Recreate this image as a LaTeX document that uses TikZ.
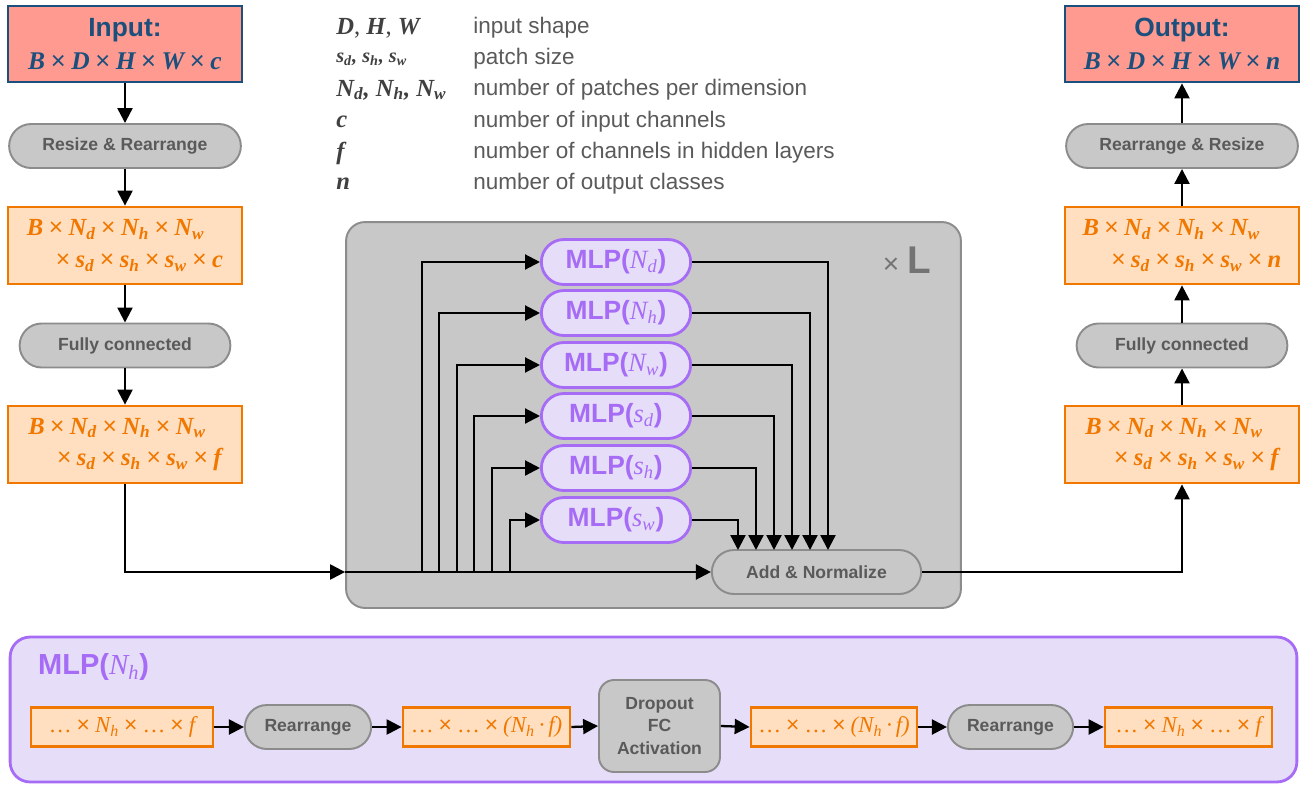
\documentclass[tikz,border=0pt]{standalone}
\usepackage{fontspec}
\setmainfont{Liberation Serif}
\setsansfont{Liberation Sans}
\usetikzlibrary{arrows.meta,shapes.misc}
\definecolor{salmon}{HTML}{FF9A90}
\definecolor{navy}{HTML}{1B4F7C}
\definecolor{peach}{HTML}{FFDFC0}
\definecolor{tangerine}{HTML}{F07800}
\definecolor{panelgray}{HTML}{C8C8C8}
\definecolor{edgegray}{HTML}{8C8C8C}
\definecolor{textgray}{HTML}{5A5A5A}
\definecolor{lavender}{HTML}{E6DEF8}
\definecolor{violet}{HTML}{A66CF6}
\newcommand{\vb}[1]{{\rmfamily\bfseries\itshape #1}}
\newcommand{\vi}[1]{{\rmfamily\mdseries\itshape #1}}
\newcommand{\sbs}[1]{\textsubscript{#1}}
\newcommand{\crs}{{\sffamily\mdseries\hspace{0.22em}×\hspace{0.22em}}}
\tikzstyle{iobox}=[rectangle,draw=navy,fill=salmon,line width=1.6pt,minimum width=4.68cm,minimum height=1.52cm,align=center,text=navy]
\tikzstyle{shapebox}=[rectangle,draw=tangerine,fill=peach,line width=1.6pt,minimum width=4.68cm,minimum height=1.54cm,align=left,text=tangerine,font=\fontsize{14}{18}\selectfont]
\tikzstyle{rowbox}=[shapebox,minimum height=0.78cm,align=center,font=\fontsize{13}{15}\selectfont]
\tikzstyle{opnode}=[rounded rectangle,draw=edgegray,fill=panelgray,line width=1.1pt,minimum height=0.88cm,text=textgray,font=\sffamily\bfseries\fontsize{10}{12}\selectfont]
\tikzstyle{mlpnode}=[rounded rectangle,draw=violet,fill=lavender,line width=1.6pt,minimum width=3.22cm,minimum height=0.9cm,text=violet,font=\sffamily\bfseries\fontsize{15}{17}\selectfont]
\tikzstyle{legsym}=[anchor=west,inner sep=0pt,text=black!75,font=\fontsize{14}{16}\selectfont]
\tikzstyle{legtext}=[anchor=west,inner sep=0pt,text=textgray,font=\sffamily\fontsize{12.8}{15}\selectfont]
\tikzstyle{edge}=[draw,line width=1.3pt,-{Triangle[length=8.5pt,width=8.5pt]}]
\begin{document}
\begin{tikzpicture}[x=0.02cm,y=-0.02cm]
    \useasboundingbox (0,0) rectangle (1302,785);

    % repeated block
    \node[rectangle,rounded corners=0.38cm,draw=edgegray,fill=panelgray,line width=1.1pt,minimum width=12.3cm,minimum height=7.72cm] (block) at (653.5,415) {};
    \node[text=textgray!85] (times) at (907,260) {\sffamily\fontsize{16}{18}\selectfont ×\hspace{0.3em}{\bfseries\fontsize{22}{24}\selectfont L}};

    % legend
    \foreach \y/\sym/\desc [count=\i] in {28/{\vb{D}, \vb{H}, \vb{W}}/{input shape},
            59/{{\fontsize{11.5}{13}\selectfont\vb{s\sbs{d}, s\sbs{h}, s\sbs{w}}}}/{patch size},
            90/{\vb{N\sbs{d}, N\sbs{h}, N\sbs{w}}}/{number of patches per dimension},
            122/{\vb{c}}/{number of input channels},
            153/{\vb{f}}/{number of channels in hidden layers},
            184/{\vb{n}}/{number of output classes}}
    {
        \node[legsym] (sym\i) at (336,\y) {\sym};
        \node[legtext] (desc\i) at (473,\y) {\desc};
    }

    % left column
    \node[iobox] (inp) at (125,44) {{\sffamily\bfseries\fontsize{15}{18}\selectfont Input:}\\[5pt]
        {\fontsize{14.5}{17}\selectfont\vb{B}\crs\vb{D}\crs\vb{H}\crs\vb{W}\crs\vb{c}}};
    \node[opnode,minimum width=4.87cm] (rr1) at (125,146) {Resize \& Rearrange};
    \node[shapebox] (sh1) at (125,245.5) {\vb{B}\crs\vb{N\sbs{d}}\crs\vb{N\sbs{h}}\crs\vb{N\sbs{w}}\\
        \hspace{0.95em}\crs\vb{s\sbs{d}}\crs\vb{s\sbs{h}}\crs\vb{s\sbs{w}}\crs\vb{c}};
    \node[opnode,minimum width=4.45cm] (fc1) at (125,345.5) {Fully connected};
    \node[shapebox] (sh2) at (125,444.5) {\vb{B}\crs\vb{N\sbs{d}}\crs\vb{N\sbs{h}}\crs\vb{N\sbs{w}}\\
        \hspace{0.95em}\crs\vb{s\sbs{d}}\crs\vb{s\sbs{h}}\crs\vb{s\sbs{w}}\crs\vb{f}};

    % right column
    \node[iobox] (out) at (1182,44) {{\sffamily\bfseries\fontsize{15}{18}\selectfont Output:}\\[5pt]
        {\fontsize{14.5}{17}\selectfont\vb{B}\crs\vb{D}\crs\vb{H}\crs\vb{W}\crs\vb{n}}};
    \node[opnode,minimum width=4.87cm] (rr2) at (1182,146) {Rearrange \& Resize};
    \node[shapebox] (sh3) at (1182,245.5) {\vb{B}\crs\vb{N\sbs{d}}\crs\vb{N\sbs{h}}\crs\vb{N\sbs{w}}\\
        \hspace{0.95em}\crs\vb{s\sbs{d}}\crs\vb{s\sbs{h}}\crs\vb{s\sbs{w}}\crs\vb{n}};
    \node[opnode,minimum width=4.45cm] (fc2) at (1182,345.5) {Fully connected};
    \node[shapebox] (sh4) at (1182,444.5) {\vb{B}\crs\vb{N\sbs{d}}\crs\vb{N\sbs{h}}\crs\vb{N\sbs{w}}\\
        \hspace{0.95em}\crs\vb{s\sbs{d}}\crs\vb{s\sbs{h}}\crs\vb{s\sbs{w}}\crs\vb{f}};

    \draw[edge] (inp.south) -- (rr1.north);
    \draw[edge] (rr1.south) -- (sh1.north);
    \draw[edge] (sh1.south) -- (fc1.north);
    \draw[edge] (fc1.south) -- (sh2.north);
    \draw[edge] (sh4.north) -- (fc2.south);
    \draw[edge] (fc2.north) -- (sh3.south);
    \draw[edge] (sh3.north) -- (rr2.south);
    \draw[edge] (rr2.north) -- (out.south);

    % mixing block
    \node[opnode,minimum width=4.42cm] (add) at (816.5,572) {Add \& Normalize};
    \coordinate (entry) at (block.west |- add.west);
    \draw[edge] (sh2.south) |- (entry);
    \draw[edge] (entry) -- (add.west);
    \draw[edge] (add.east) -| (sh4.south);

    \foreach \n/\lab/\y/\bx/\ix in {1/{N\sbs{d}}/262/422/828, 2/{N\sbs{h}}/313/439/810,
            3/{N\sbs{w}}/365/457/792, 4/{s\sbs{d}}/416/474/774,
            5/{s\sbs{h}}/468/492/756, 6/{s\sbs{w}}/520/510/738}
    {
        \node[mlpnode] (mlp\n) at (616,\y) {MLP(\vi{\lab})};
        \coordinate (br\n) at (\bx,572);
        \coordinate (in\n) at (\ix,550);
        \draw[edge] (br\n) |- (mlp\n.west);
        \draw[edge] (mlp\n.east) -| (in\n);
    }

    % MLP detail
    \node[rectangle,rounded corners=0.4cm,draw=violet,fill=lavender,line width=1.6pt,minimum width=25.74cm,minimum height=2.9cm] (panel) at (653.5,709.5) {};
    \node[anchor=west,text=violet,font=\sffamily\bfseries\fontsize{16.5}{19}\selectfont] (title) at (32,667) {MLP(\vi{N\sbs{h}})};

    \node[rowbox,minimum width=3.64cm] (r1) at (122,727) {\dots\crs\vi{N\sbs{h}}\crs\dots\crs\vi{f}};
    \node[opnode,minimum width=2.76cm] (r2) at (308,727) {Rearrange};
    \node[rowbox,minimum width=3.34cm] (r3) at (486.5,727) {\dots\crs\dots\crs\vi{(N\sbs{h}\,·\,f)}};
    \node[rectangle,rounded corners=0.3cm,draw=edgegray,fill=panelgray,line width=1.1pt,minimum width=2.42cm,minimum height=1.84cm,align=center,text=textgray,font=\sffamily\bfseries\fontsize{10}{13}\selectfont] (r4) at (659.5,726) {Dropout\\FC\\Activation};
    \node[rowbox,minimum width=3.32cm] (r5) at (834,727) {\dots\crs\dots\crs\vi{(N\sbs{h}\,·\,f)}};
    \node[opnode,minimum width=2.74cm] (r6) at (1010.5,727) {Rearrange};
    \node[rowbox,minimum width=3.34cm] (r7) at (1188.5,727) {\dots\crs\vi{N\sbs{h}}\crs\dots\crs\vi{f}};

    \foreach \source/ \dest in {r1/r2,r2/r3,r3/r4,r4/r5,r5/r6,r6/r7}
        \draw[edge] (\source.east) -- (\dest.west);
\end{tikzpicture}
\end{document}
